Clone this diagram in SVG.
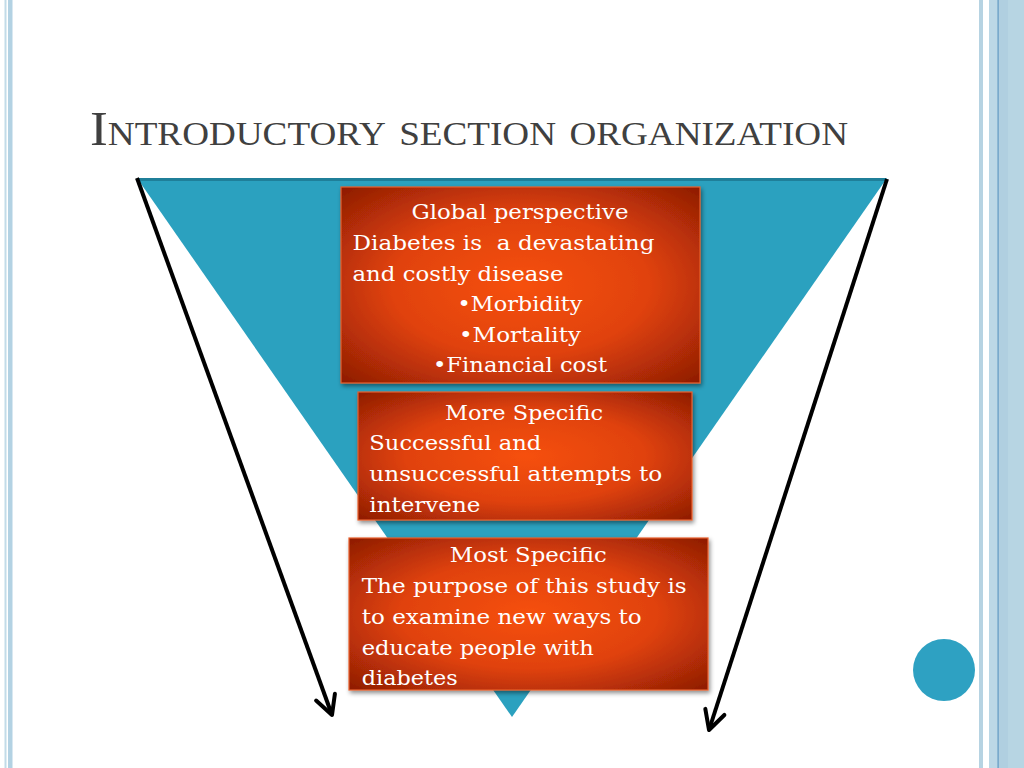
<svg xmlns="http://www.w3.org/2000/svg" width="1024" height="768" viewBox="0 0 1024 768">
<defs>
<style>
.bx{stroke:#e8602e;stroke-width:1.2;filter:url(#sh)}
.t{font-family:"DejaVu Serif","Liberation Serif",serif;font-size:20.5px;fill:#ffffff;white-space:pre}
.c{text-anchor:middle}
.arr{stroke:#000;stroke-width:4;fill:none;marker-end:url(#ah)}
</style>
<radialGradient id="g" cx="50%" cy="50%" r="72%">
<stop offset="0" stop-color="#f6500e"/>
<stop offset="0.5" stop-color="#e0420a"/>
<stop offset="1" stop-color="#8a1a04"/>
</radialGradient>
<filter id="sh" x="-5%" y="-5%" width="112%" height="115%">
<feDropShadow dx="1.5" dy="2.5" stdDeviation="2" flood-color="#000" flood-opacity="0.45"/>
</filter>
<marker id="ah" markerUnits="userSpaceOnUse" viewBox="-24 -14 28 28" markerWidth="28" markerHeight="28" refX="0" refY="0" orient="auto">
<path d="M-19 -10 L0 0 L-19 10" fill="none" stroke="#000" stroke-width="4" stroke-linecap="round" stroke-linejoin="round"/>
</marker>
</defs>
<rect width="1024" height="768" fill="#ffffff"/>
<g id="border">
<rect x="4.5" y="0" width="2" height="768" fill="#c2dbe8"/>
<rect x="8" y="0" width="4.5" height="768" fill="#b3d2e3"/>
<rect x="979" y="0" width="4" height="768" fill="#b6d3e2"/>
<rect x="989" y="0" width="35" height="768" fill="#bcd8e6"/>
<rect x="997.5" y="0" width="1.2" height="768" fill="#5f98c0"/>
<rect x="999" y="0" width="9" height="768" fill="#b0cfe0"/>
<rect x="1008" y="0" width="16" height="768" fill="#b7d5e3"/>
</g>
<text id="title" x="90" y="145" font-family="Liberation Serif, serif" font-size="49" font-variant="small-caps" fill="#404040" textLength="758" lengthAdjust="spacingAndGlyphs">Introductory section organization</text>
<g id="funnel">
<polygon points="137,178 887,178 512,717" fill="#2ba1bf"/>
<line x1="138" y1="179.5" x2="886" y2="179.5" stroke="#1f7f99" stroke-width="3"/>
</g>
<g id="connectors">
<line class="arr" x1="137" y1="178" x2="332" y2="715"/>
<line class="arr" x1="887" y1="179" x2="709" y2="730"/>
</g>
<g id="box1">
<rect class="bx" x="341" y="187" width="359" height="196" fill="url(#g)"/>
<text class="t c" x="520" y="219" textLength="217" lengthAdjust="spacingAndGlyphs">Global perspective</text>
<text class="t" x="352.5" y="250" textLength="302" lengthAdjust="spacingAndGlyphs">Diabetes is  a devastating</text>
<text class="t" x="352.5" y="281" textLength="211" lengthAdjust="spacingAndGlyphs">and costly disease</text>
<text class="t c" x="520" y="311" textLength="125" lengthAdjust="spacingAndGlyphs">•Morbidity</text>
<text class="t c" x="520" y="342" textLength="122" lengthAdjust="spacingAndGlyphs">•Mortality</text>
<text class="t c" x="520" y="372" textLength="174" lengthAdjust="spacingAndGlyphs">•Financial cost</text>
</g>
<g id="box2">
<rect class="bx" x="358" y="392" width="334" height="128" fill="url(#g)"/>
<text class="t c" x="524" y="420" textLength="158" lengthAdjust="spacingAndGlyphs">More Specific</text>
<text class="t" x="369.3" y="450" textLength="172" lengthAdjust="spacingAndGlyphs">Successful and</text>
<text class="t" x="369.3" y="481" textLength="293" lengthAdjust="spacingAndGlyphs">unsuccessful attempts to</text>
<text class="t" x="369.3" y="512" textLength="111" lengthAdjust="spacingAndGlyphs">intervene</text>
</g>
<g id="box3">
<rect class="bx" x="349" y="538" width="359" height="152" fill="url(#g)"/>
<text class="t c" x="528.3" y="562" textLength="157" lengthAdjust="spacingAndGlyphs">Most Specific</text>
<text class="t" x="361.7" y="593" textLength="325" lengthAdjust="spacingAndGlyphs">The purpose of this study is</text>
<text class="t" x="361.7" y="624" textLength="280" lengthAdjust="spacingAndGlyphs">to examine new ways to</text>
<text class="t" x="361.7" y="655" textLength="232" lengthAdjust="spacingAndGlyphs">educate people with</text>
<text class="t" x="361.7" y="685" textLength="96" lengthAdjust="spacingAndGlyphs">diabetes</text>
</g>
<circle id="dot" cx="944" cy="670" r="31" fill="#2ea1c2"/>
</svg>
